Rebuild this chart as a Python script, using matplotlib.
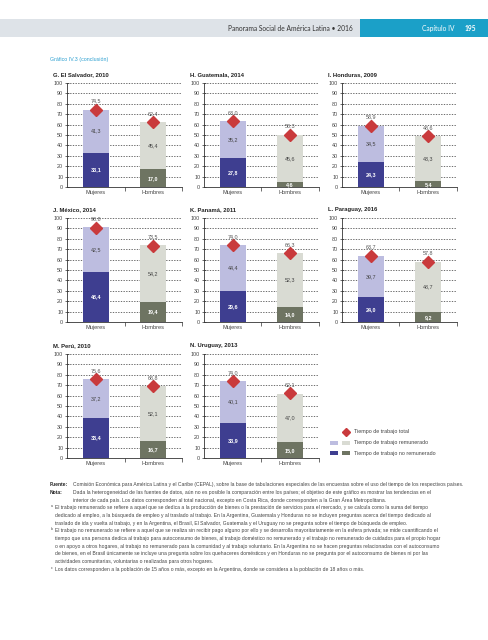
import matplotlib
matplotlib.use("Agg")
import matplotlib.pyplot as plt
import matplotlib.font_manager as fm
from matplotlib.patches import Rectangle


# Données (heures hebdomadaires)
panel_titles = [
    "G. El Salvador, 2010", "H. Guatemala, 2014", "I. Honduras, 2009",
    "J. México, 2014", "K. Panamá, 2011", "L. Paraguay, 2016",
    "M. Perú, 2010", "N. Uruguay, 2013",
]
groups = ["Mujeres", "Hombres"]
women_unpaid = [33.1, 27.8, 24.3, 48.4, 29.6, 24.0, 38.4, 33.9]
women_paid = [41.3, 35.2, 34.5, 42.5, 44.4, 39.7, 37.2, 40.1]
women_total = [74.5, 63.0, 58.9, 90.8, 74.0, 63.7, 75.6, 74.0]
men_unpaid = [17.0, 4.6, 5.4, 19.4, 14.0, 9.2, 16.7, 15.0]
men_paid = [45.4, 45.6, 43.3, 54.2, 52.3, 48.7, 52.1, 47.0]
men_total = [62.4, 50.3, 48.6, 73.5, 66.3, 57.8, 68.8, 62.1]
y_ticks = list(range(0, 101, 10))

legend_labels = [
    "Tiempo de trabajo total",
    "Tiempo de trabajo remunerado",
    "Tiempo de trabajo no remunerado",
]

source_lines = [
    ("Fuente:", "Comisión Económica para América Latina y el Caribe (CEPAL), sobre la base de tabulaciones especiales de las encuestas sobre el uso del tiempo de los respectivos países."),
    ("Nota:", "Dada la heterogeneidad de las fuentes de datos, aún no es posible la comparación entre los países; el objetivo de este gráfico es mostrar las tendencias en el"),
    ("", "interior de cada país. Los datos corresponden al total nacional, excepto en Costa Rica, donde corresponden a la Gran Área Metropolitana."),
]
footnotes = [
    ("a", [
        "El trabajo remunerado se refiere a aquel que se dedica a la producción de bienes o la prestación de servicios para el mercado, y se calcula como la suma del tiempo",
        "dedicado al empleo, a la búsqueda de empleo y al traslado al trabajo. En la Argentina, Guatemala y Honduras no se incluyen preguntas acerca del tiempo dedicado al",
        "traslado de ida y vuelta al trabajo, y en la Argentina, el Brasil, El Salvador, Guatemala y el Uruguay no se pregunta sobre el tiempo de búsqueda de empleo.",
    ]),
    ("b", [
        "El trabajo no remunerado se refiere a aquel que se realiza sin recibir pago alguno por ello y se desarrolla mayoritariamente en la esfera privada; se mide cuantificando el",
        "tiempo que una persona dedica al trabajo para autoconsumo de bienes, al trabajo doméstico no remunerado y el trabajo no remunerado de cuidados para el propio hogar",
        "o en apoyo a otros hogares, al trabajo no remunerado para la comunidad y al trabajo voluntario. En la Argentina no se hacen preguntas relacionadas con el autoconsumo",
        "de bienes, en el Brasil únicamente se incluye una pregunta sobre los quehaceres domésticos y en Honduras no se pregunta por el autoconsumo de bienes ni por las",
        "actividades comunitarias, voluntarias o realizadas para otros hogares.",
    ]),
    ("c", [
        "Los datos corresponden a la población de 15 años o más, excepto en la Argentina, donde se considera a la población de 18 años o más.",
    ]),
]

# Couleurs
C_W_UNPAID = "#3e3e90"
C_W_PAID = "#bdbde0"
C_M_UNPAID = "#6e7462"
C_M_PAID = "#d9dbd3"
C_TOTAL = "#c93a3c"
C_TEXT = "#444444"

# Polices
available = {f.name for f in fm.fontManager.ttflist}
if "Liberation Sans Narrow" in available:
    NARROW, SCALE = "Liberation Sans Narrow", 1.0
else:
    NARROW, SCALE = "Liberation Sans", 0.85
plt.rcParams["font.family"] = [NARROW, "DejaVu Sans"]

W, H = 489, 640
fig = plt.figure(figsize=(W / 100, H / 100), dpi=100)

# Fond en coordonnées pixel
bg = fig.add_axes([0, 0, 1, 1])
bg.set_xlim(0, W)
bg.set_ylim(H, 0)
bg.axis("off")

# En-tête
bg.add_patch(Rectangle((0, 19), 360, 18, color="#dee3e8", lw=0))
bg.add_patch(Rectangle((360, 19), W - 360, 18, color="#1ba0c8", lw=0))
bg.text(353, 28.5, "Panorama Social de América Latina • 2016", ha="right", va="center",
        fontsize=4.8, color="#333333", family=["Lato", "DejaVu Sans"])
bg.text(422, 28.5, "Capítulo IV", ha="left", va="center", fontsize=4.8,
        color="white", family=["Lato", "DejaVu Sans"])
bg.text(465, 28.5, "195", ha="left", va="center", fontsize=4.8, color="white",
        fontweight="bold", family=["Lato", "DejaVu Sans"])
bg.text(50, 60, "Gráfico IV.3 (conclusión)", ha="left", va="center",
        fontsize=4.4 * SCALE, color="#2b9fd0")

col_left = [67, 204, 342]
row_top = [83, 218, 354]
AW, AH = 115, 104
BAR_W = 0.46


def fmt(v):
    return f"{v:.1f}".replace(".", ",")


for i, title in enumerate(panel_titles):
    r, c = divmod(i, 3)
    left, top = col_left[c], row_top[r]
    ax = fig.add_axes([left / W, 1 - (top + AH) / H, AW / W, AH / H])
    ax.patch.set_alpha(0)

    unpaid = [women_unpaid[i], men_unpaid[i]]
    paid = [women_paid[i], men_paid[i]]
    total = [women_total[i], men_total[i]]
    x = [0, 1]

    ax.bar(x, unpaid, width=BAR_W, color=[C_W_UNPAID, C_M_UNPAID], zorder=3)
    ax.bar(x, paid, width=BAR_W, bottom=unpaid, color=[C_W_PAID, C_M_PAID], zorder=3)
    ax.plot(x, total, linestyle="none", marker="D", markersize=6.2, color=C_TOTAL, zorder=5)

    for xi, u, p, t in zip(x, unpaid, paid, total):
        ax.text(xi, u / 2, fmt(u), ha="center", va="center", fontsize=4.6 * SCALE,
                color="white", fontweight="bold", zorder=6)
        ax.text(xi, u + p / 2, fmt(p), ha="center", va="center", fontsize=4.6 * SCALE,
                color=C_TEXT, zorder=6)
        ax.text(xi, t + 6, fmt(t), ha="center", va="bottom", fontsize=4.6 * SCALE,
                color="#555555", zorder=6)

    ax.set_xlim(-0.5, 1.5)
    ax.set_ylim(0, 100)
    ax.set_yticks(y_ticks)
    ax.set_yticks([], minor=True)
    ax.set_xticks(x)
    ax.set_xticklabels(groups)
    ax.set_xticks([0.5, 1.5], minor=True)
    for yv in y_ticks[1:]:
        ax.axhline(yv, color="#555555", lw=0.6, linestyle=(0, (1.6, 1.6)), zorder=1)

    for side in ("top", "right"):
        ax.spines[side].set_visible(False)
    for side in ("left", "bottom"):
        ax.spines[side].set_color("#333333")
        ax.spines[side].set_linewidth(0.6)
    ax.tick_params(axis="y", direction="inout", length=3, width=0.5, color="#333333",
                   labelsize=4.6 * SCALE, labelcolor=C_TEXT, pad=1.2)
    ax.tick_params(axis="x", which="major", length=0, labelsize=4.8 * SCALE,
                   labelcolor=C_TEXT, pad=2.5)
    ax.tick_params(axis="x", which="minor", direction="out", length=3, width=0.5,
                   color="#333333")

    bg.text(left - 14, top - 8, title, ha="left", va="center", fontsize=5.0 * SCALE,
            fontweight="bold", color="#222222")

# Légende
bg.plot([346], [432], linestyle="none", marker="D", markersize=4.5, color=C_TOTAL)
bg.add_patch(Rectangle((330, 441.2), 7.5, 3.6, color=C_W_PAID, lw=0))
bg.add_patch(Rectangle((342, 441.2), 7.5, 3.6, color=C_M_PAID, lw=0))
bg.add_patch(Rectangle((330, 451.2), 7.5, 3.6, color=C_W_UNPAID, lw=0))
bg.add_patch(Rectangle((342, 451.2), 7.5, 3.6, color=C_M_UNPAID, lw=0))
for k, lab in enumerate(legend_labels):
    bg.text(354, 432 + 10.5 * k, lab, ha="left", va="center", fontsize=4.6 * SCALE,
            color=C_TEXT)

# Sources et notes
y = 484.5
LINE = 7.7
FS = 4.2 * SCALE
for head, body in source_lines:
    if head:
        bg.text(50, y, head, ha="left", va="center", fontsize=FS, fontweight="bold",
                color="#222222")
    bg.text(73, y, body, ha="left", va="center", fontsize=FS, color=C_TEXT)
    y += LINE
for letter, lines in footnotes:
    bg.text(50.5, y - 1.5, letter, ha="left", va="center", fontsize=FS * 0.7, color=C_TEXT)
    for line in lines:
        bg.text(55, y, line, ha="left", va="center", fontsize=FS, color=C_TEXT)
        y += LINE

fig.savefig("out.png", dpi=100)
